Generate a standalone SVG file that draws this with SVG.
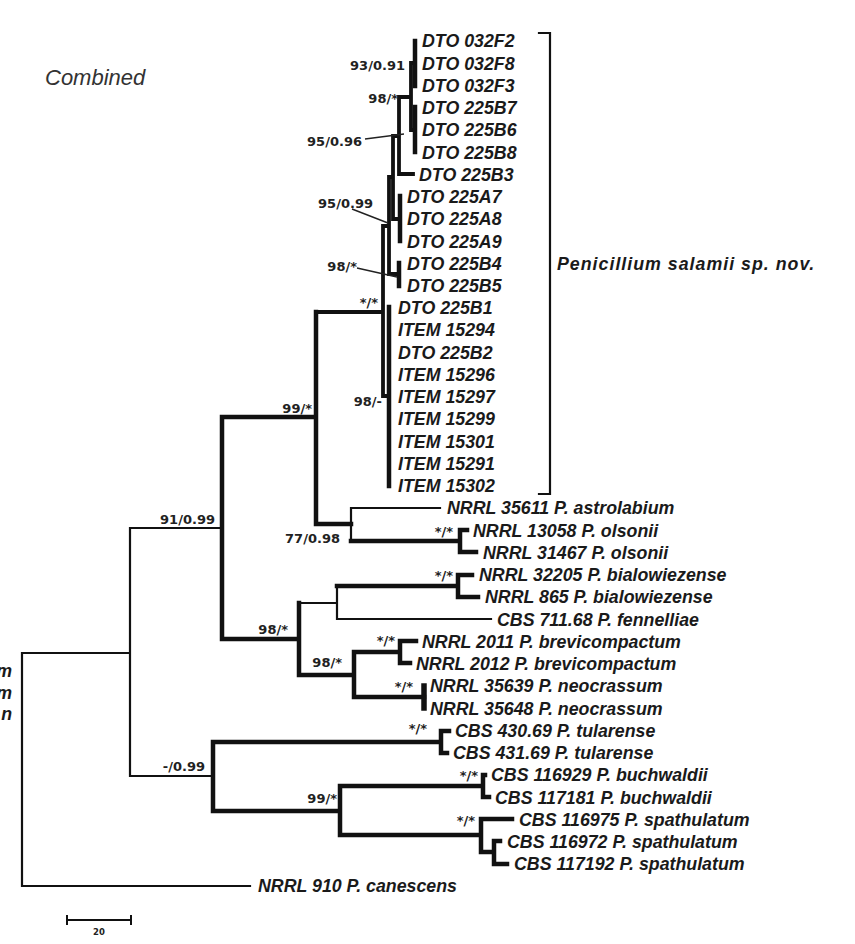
<svg xmlns="http://www.w3.org/2000/svg" width="855" height="944" viewBox="0 0 855 944">
<style>
.tip{font-family:"Liberation Sans",Arial,sans-serif;font-weight:bold;font-style:italic;font-size:17.8px;fill:#1a1a1a}
.sup{font-family:"DejaVu Sans",Verdana,sans-serif;font-weight:bold;font-size:13px;fill:#222;text-anchor:end}
.thin{fill:none;stroke:#111;stroke-width:2.2;stroke-linecap:square}
.thick{fill:none;stroke:#111;stroke-width:4.5;stroke-linecap:square}
.mid{fill:none;stroke:#111;stroke-width:3.8;stroke-linecap:square}
.lead{fill:none;stroke:#222;stroke-width:1.4}
</style>
<rect width="855" height="944" fill="#fff"/>
<text x="45" y="85" style="font-family:'Liberation Sans',Arial,sans-serif;font-style:italic;font-size:22px;fill:#333">Combined</text>

<g id="connectors">
 <path class="thin" d="M22,653V886M22,653H130M22,886H250M130,528V776M130,528H222M130,776H213M351,508H440M351,508V541M299,603H337M337,586V619H491"/>
 <path class="thick" d="M222,417V639M222,417H316M222,639H299M316,312V524M316,524H351M351,541H460M460,530V552M460,530H467M460,552H476M337,586H458M458,575V597M458,575H472M458,597H478M299,603V675M299,675H354M354,652V697M354,652H400M400,641V663M400,641H416M400,663H410M354,697H424M213,742V811M213,742H441M441,731V753M441,731H449M441,753H447M213,811H340M340,786V835M340,786H483M483,775V797M483,775H485M483,797H489M340,835H481M481,819V852M481,819H512M481,852H494M494,841V864M494,841H500M494,864H507"/>
 <path class="thick" style="stroke-width:5.5" d="M424,686V708"/>
 <path class="mid" d="M316,312H383M383,226V396M383,396H389M383,226H389M389,177V274M389,274H399M389,177H393M393,136V219M393,219H400M393,136H399M399,97V174M399,174H413M399,97H411M411,63V130M411,63H415M411,130H415"/>
 <path class="thick" d="M389,307V486M399,263V286M400,196V241M415,41V86M415,107V152"/>
 <path class="lead" d="M365,139L404,134M352,209L388,223M357,268L397,277"/>
 <path class="thin" d="M550,33V494M539,33H550M539,494H550"/>
 <path class="thin" style="stroke-width:2" d="M67,920H131M67,916V924M131,916V924"/>
</g>

<g id="support">
 <text class="sup" x="405" y="70">93/0.91</text>
 <text class="sup" x="398" y="103">98/*</text>
 <text class="sup" x="362" y="146">95/0.96</text>
 <text class="sup" x="373" y="208">95/0.99</text>
 <text class="sup" x="357" y="271">98/*</text>
 <text class="sup" x="378" y="307">*/*</text>
 <text class="sup" x="382" y="406">98/-</text>
 <text class="sup" x="312" y="413">99/*</text>
 <text class="sup" x="215" y="524">91/0.99</text>
 <text class="sup" x="340" y="543">77/0.98</text>
 <text class="sup" x="453" y="536">*/*</text>
 <text class="sup" x="453" y="580">*/*</text>
 <text class="sup" x="288" y="634">98/*</text>
 <text class="sup" x="395" y="645">*/*</text>
 <text class="sup" x="342" y="667">98/*</text>
 <text class="sup" x="413" y="691">*/*</text>
 <text class="sup" x="427" y="733">*/*</text>
 <text class="sup" x="205" y="771">-/0.99</text>
 <text class="sup" x="478" y="780">*/*</text>
 <text class="sup" x="337" y="803">99/*</text>
 <text class="sup" x="475" y="825">*/*</text>
</g>

<g id="t00"><text class="tip" x="422" y="47.3">DTO 032F2</text></g>
<g id="t01"><text class="tip" x="422" y="69.5">DTO 032F8</text></g>
<g id="t02"><text class="tip" x="422" y="91.8">DTO 032F3</text></g>
<g id="t03"><text class="tip" x="422" y="114">DTO 225B7</text></g>
<g id="t04"><text class="tip" x="422" y="136.3">DTO 225B6</text></g>
<g id="t05"><text class="tip" x="422" y="158.5">DTO 225B8</text></g>
<g id="t06"><text class="tip" x="419" y="180.7">DTO 225B3</text></g>
<g id="t07"><text class="tip" x="407" y="203">DTO 225A7</text></g>
<g id="t08"><text class="tip" x="407" y="225.2">DTO 225A8</text></g>
<g id="t09"><text class="tip" x="407" y="247.5">DTO 225A9</text></g>
<g id="t10"><text class="tip" x="407" y="269.7">DTO 225B4</text></g>
<g id="t11"><text class="tip" x="407" y="291.9">DTO 225B5</text></g>
<g id="t12"><text class="tip" x="398" y="314.2">DTO 225B1</text></g>
<g id="t13"><text class="tip" x="398" y="336.4">ITEM 15294</text></g>
<g id="t14"><text class="tip" x="398" y="358.7">DTO 225B2</text></g>
<g id="t15"><text class="tip" x="398" y="380.9">ITEM 15296</text></g>
<g id="t16"><text class="tip" x="398" y="403.1">ITEM 15297</text></g>
<g id="t17"><text class="tip" x="398" y="425.4">ITEM 15299</text></g>
<g id="t18"><text class="tip" x="398" y="447.6">ITEM 15301</text></g>
<g id="t19"><text class="tip" x="398" y="469.9">ITEM 15291</text></g>
<g id="t20"><text class="tip" x="398" y="492.1">ITEM 15302</text></g>
<g id="t21"><text class="tip" x="447" y="514.3">NRRL 35611 P. astrolabium</text></g>
<g id="t22"><text class="tip" x="473" y="536.6">NRRL 13058 P. olsonii</text></g>
<g id="t23"><text class="tip" x="483" y="558.8">NRRL 31467 P. olsonii</text></g>
<g id="t24"><text class="tip" x="479" y="581.1">NRRL 32205 P. bialowiezense</text></g>
<g id="t25"><text class="tip" x="485" y="603.3">NRRL 865 P. bialowiezense</text></g>
<g id="t26"><text class="tip" x="497" y="625.5">CBS 711.68 P. fennelliae</text></g>
<g id="t27"><text class="tip" x="422" y="647.8">NRRL 2011 P. brevicompactum</text></g>
<g id="t28"><text class="tip" x="416" y="670">NRRL 2012 P. brevicompactum</text></g>
<g id="t29"><text class="tip" x="430" y="692.3">NRRL 35639 P. neocrassum</text></g>
<g id="t30"><text class="tip" x="430" y="714.5">NRRL 35648 P. neocrassum</text></g>
<g id="t31"><text class="tip" x="455" y="736.7">CBS 430.69 P. tularense</text></g>
<g id="t32"><text class="tip" x="453" y="759">CBS 431.69 P. tularense</text></g>
<g id="t33"><text class="tip" x="491" y="781.2">CBS 116929 P. buchwaldii</text></g>
<g id="t34"><text class="tip" x="495" y="803.5">CBS 117181 P. buchwaldii</text></g>
<g id="t35"><text class="tip" x="519" y="825.7">CBS 116975 P. spathulatum</text></g>
<g id="t36"><text class="tip" x="507" y="847.9">CBS 116972 P. spathulatum</text></g>
<g id="t37"><text class="tip" x="514" y="870.2">CBS 117192 P. spathulatum</text></g>
<g id="t38"><text class="tip" x="258" y="892.4">NRRL 910 P. canescens</text></g>

<g id="clade-salamii"><text class="tip" x="557" y="270" style="letter-spacing:1px">Penicillium salamii sp. nov.</text></g>

<g id="edge-text">
 <text class="tip" x="12" y="677" text-anchor="end">m</text>
 <text class="tip" x="12" y="699" text-anchor="end">m</text>
 <text class="tip" x="12" y="720" text-anchor="end">n</text>
</g>

<g id="scale"><text x="99" y="935" text-anchor="middle" style="font-family:'DejaVu Sans',sans-serif;font-weight:bold;font-size:8.5px;fill:#222">20</text></g>
</svg>
